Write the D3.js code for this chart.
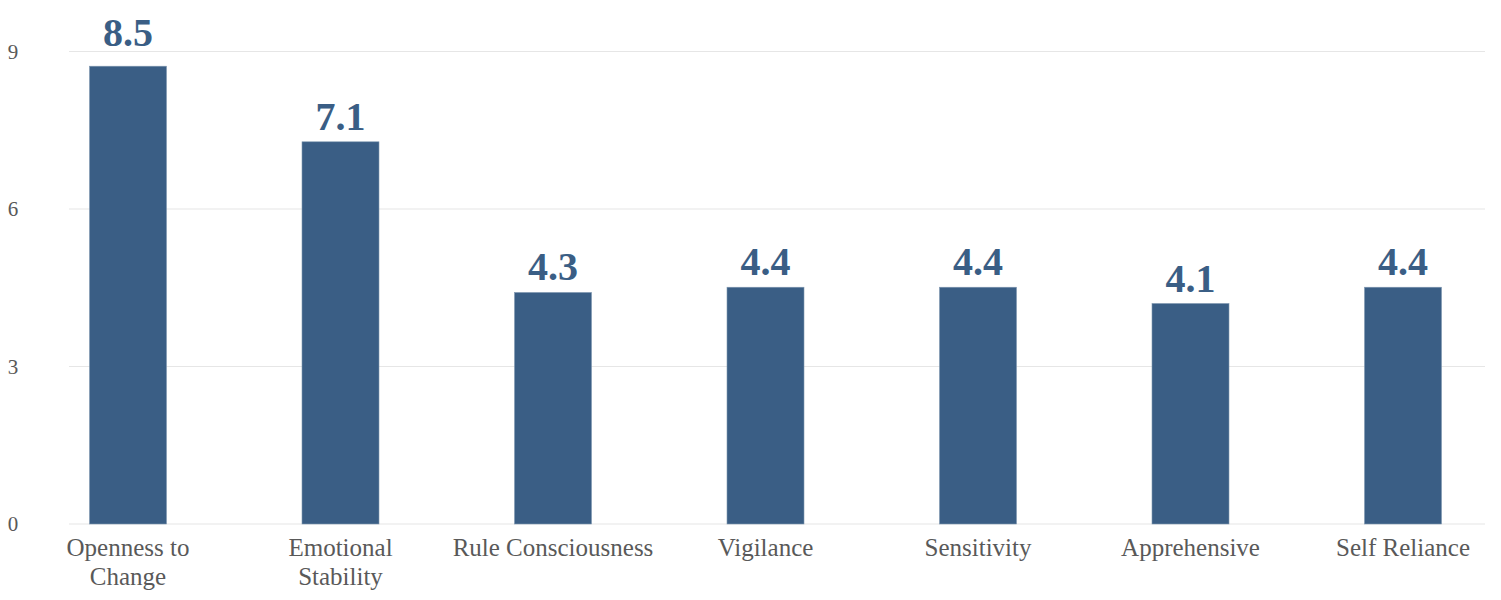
<!DOCTYPE html>
<html>
<head>
<meta charset="utf-8">
<script src="https://cdn.jsdelivr.net/npm/d3@7"></script>
<style>
  html, body { margin: 0; padding: 0; background: #fff; }
  svg { display: block; font-family: "Liberation Serif", "DejaVu Serif", serif; }
</style>
</head>
<body>
<svg id="chart" width="1501" height="600"></svg>
<script>
// categories (line breaks as shown under the bars)
const categories = ['Openness to Change', 'Emotional Stability', 'Rule Consciousness',
  'Vigilance', 'Sensitivity', 'Apprehensive', 'Self Reliance'];
const categoryLines = [['Openness to', 'Change'], ['Emotional', 'Stability'], ['Rule Consciousness'],
  ['Vigilance'], ['Sensitivity'], ['Apprehensive'], ['Self Reliance']];
// bar heights as drawn, and the labels printed over them
const barValues = [8.72, 7.28, 4.41, 4.51, 4.51, 4.2, 4.51];
const valueLabels = ['8.5', '7.1', '4.3', '4.4', '4.4', '4.1', '4.4'];
const yTicks = [0, 3, 6, 9];

const BAR = '#3a5e85';
const TXT = '#595959';
const BAR_W = 77;

const svg = d3.select('#chart');

const x = d3.scalePoint().domain(categories).range([128, 1403]);
const y = d3.scaleLinear().domain([0, 9]).range([524, 51.5]);

// gridlines
svg.append('g').selectAll('line').data(yTicks).join('line')
  .attr('x1', 69).attr('x2', 1485)
  .attr('y1', d => y(d)).attr('y2', d => y(d))
  .attr('stroke', '#e6e6e6').attr('stroke-width', 1.2);

// y tick labels
svg.append('g').selectAll('text').data(yTicks).join('text')
  .attr('x', 13).attr('y', d => y(d)).attr('dy', '0.35em')
  .attr('text-anchor', 'middle')
  .attr('font-size', 21).attr('fill', TXT)
  .text(d => d);

// bars
svg.append('g').selectAll('rect').data(categories).join('rect')
  .attr('x', d => x(d) - BAR_W / 2)
  .attr('width', BAR_W)
  .attr('y', (d, i) => y(barValues[i]))
  .attr('height', (d, i) => y(0) - y(barValues[i]))
  .attr('fill', BAR)
  .attr('stroke', '#7f97b0').attr('stroke-width', 0.6);

// value labels
svg.append('g').selectAll('text').data(categories).join('text')
  .attr('x', d => x(d))
  .attr('y', (d, i) => y(barValues[i]) - (i === 0 ? 20 : 12))
  .attr('text-anchor', 'middle')
  .attr('font-size', 40).attr('font-weight', 'bold')
  .attr('fill', BAR)
  .text((d, i) => valueLabels[i]);

// category labels
const cat = svg.append('g').selectAll('text').data(categories).join('text')
  .attr('x', d => x(d))
  .attr('y', 556)
  .attr('text-anchor', 'middle')
  .attr('font-size', 25).attr('fill', TXT);
cat.selectAll('tspan').data((d, i) => categoryLines[i]).join('tspan')
  .attr('x', function () { return this.parentNode.getAttribute('x'); })
  .attr('dy', (d, j) => j === 0 ? 0 : 29)
  .text(d => d);
</script>
</body>
</html>
